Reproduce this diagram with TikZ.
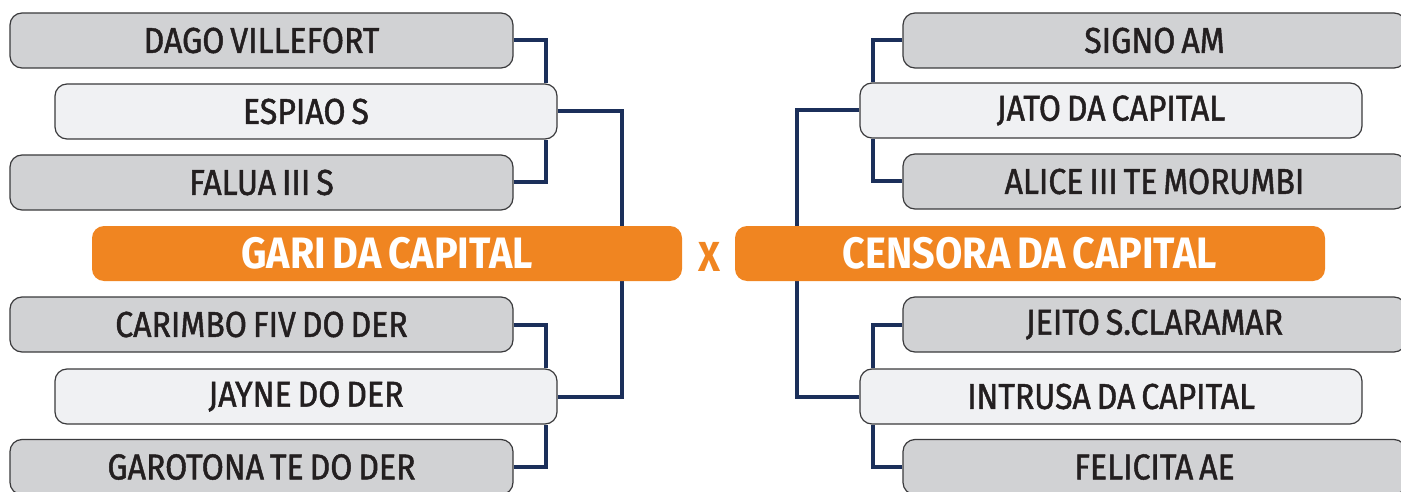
\documentclass[tikz,border=0pt]{standalone}
\usepackage{fontspec}
\setmainfont{Fira Sans}[FakeStretch=0.89, FakeBold=1.3, WordSpace=0.7]
\newfontfamily\boldcond{Fira Sans Bold}[FakeStretch=0.9, WordSpace=0.7]
\usetikzlibrary{backgrounds}
\definecolor{gfill}{HTML}{D1D2D4}
\definecolor{lfill}{HTML}{F0F1F3}
\definecolor{bord}{HTML}{3A3A3C}
\definecolor{navy}{HTML}{1B2F5A}
\definecolor{orng}{HTML}{F08521}
\definecolor{txt}{HTML}{231F20}
\tikzset{
  x=1pt, y=-1pt,
  basebox/.style={rectangle, rounded corners=12pt, draw=bord, line width=1.2pt,
    minimum height=55pt, inner sep=0pt, text=txt,
    font=\fontsize{36}{38}\selectfont},
  graybox/.style={basebox, fill=gfill, minimum width=503pt},
  lightbox/.style={basebox, fill=lfill, minimum width=502pt},
  winbox/.style={rectangle, rounded corners=12pt, fill=orng, draw=none,
    minimum width=590pt, minimum height=55pt, text=white,
    font=\boldcond\fontsize{44}{46}\selectfont},
  link/.style={draw=navy, line width=4pt}
}
\begin{document}
\begin{tikzpicture}
\useasboundingbox (0,0) rectangle (1401,492);
\clip (0,0) rectangle (1401,492);
% left side
\node[graybox] (dago) at (261.5,40.5) {DAGO VILLEFORT};
\node[lightbox] (espiao) at (306,111.5) {ESPIAO S};
\node[graybox] (falua) at (261.5,182.5) {FALUA III S};
\node[winbox] (gari) at (387,253.5) {\raisebox{-2pt}{GARI DA CAPITAL}};
\node[graybox] (carimbo) at (261.5,324.5) {CARIMBO FIV DO DER};
\node[lightbox] (jayne) at (306,396.5) {JAYNE DO DER};
\node[graybox] (garotona) at (261.5,467) {GAROTONA TE DO DER};
% right side
\node[graybox] (signo) at (1154.5,40.5) {SIGNO AM};
\node[lightbox] (jato) at (1111,110.5) {JATO DA CAPITAL};
\node[graybox] (alice) at (1154.5,181.5) {ALICE III TE MORUMBI};
\node[winbox] (censora) at (1030,253.5) {\raisebox{-2pt}{CENSORA DA CAPITAL}};
\node[graybox] (jeito) at (1154.5,324.5) {JEITO S.CLARAMAR};
\node[lightbox] (intrusa) at (1111,396.5) {INTRUSA DA CAPITAL};
\node[graybox] (felicita) at (1154.5,467) {FELICITA AE};
\node[text=orng, font=\boldcond\fontsize{42}{46}\selectfont] (vs) at (709,257) {X};
\coordinate (lj1) at (546,0);
\coordinate (lj2) at (622,0);
\coordinate (rj1) at (873,0);
\coordinate (rj2) at (797,0);
\begin{pgfonlayer}{background}
\draw[link] (dago.east) -| (lj1 |- espiao.north);
\draw[link] (falua.east) -| (lj1 |- espiao.south);
\draw[link] (espiao.east) -| (lj2 |- gari.north);
\draw[link] (carimbo.east) -| (lj1 |- jayne.north);
\draw[link] (garotona.east) -| (lj1 |- jayne.south);
\draw[link] (jayne.east) -| (lj2 |- gari.south);
\draw[link] (signo.west) -| (rj1 |- jato.north);
\draw[link] (alice.west) -| (rj1 |- jato.south);
\draw[link] (jato.west) -| (rj2 |- censora.north);
\draw[link] (jeito.west) -| (rj1 |- intrusa.north);
\draw[link] (felicita.west) -| (rj1 |- intrusa.south);
\draw[link] (intrusa.west) -| (rj2 |- censora.south);
\end{pgfonlayer}
\end{tikzpicture}
\end{document}
